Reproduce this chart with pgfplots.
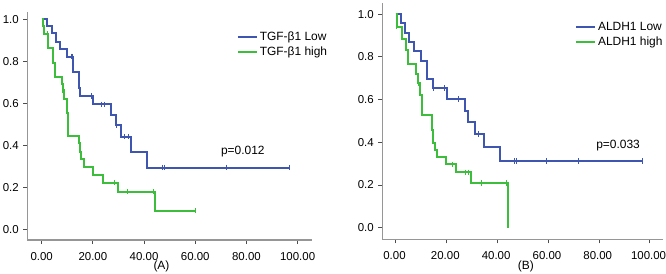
\documentclass[border=0pt]{standalone}
\usepackage{fontspec}
\setmainfont{Liberation Sans}
\usepackage{pgfplots}
\pgfplotsset{compat=1.18}
\definecolor{kmblue}{RGB}{62,86,176}
\definecolor{kmgreen}{RGB}{60,190,60}
\definecolor{axgray}{RGB}{150,150,150}
\pgfplotsset{
  kmaxis/.style={
    scale only axis,
    anchor=south west,
    axis x line=bottom, axis y line=left,
    axis line style={-, axgray, line width=1.2bp},
    tick align=outside,
    major tick length=4bp,
    tick style={black!70, line width=0.9bp},
    /pgf/number format/assume math mode=true,
    tick label style={font=\fontsize{11.5}{13}\selectfont},
    xtick={0,20,40,60,80,100},
    xticklabels={0.00,20.00,40.00,60.00,80.00,100.00},
    ytick={0,0.2,0.4,0.6,0.8,1.0},
    yticklabels={0.0,0.2,0.4,0.6,0.8,1.0},
    xticklabel style={yshift=-4.5bp},
    yticklabel style={xshift=-1bp},
    clip=false,
    legend cell align=left,
    legend style={draw=none, fill=none, inner sep=0pt, row sep=0.5bp,
      font=\fontsize{12}{14}\selectfont},
    legend image code/.code={\draw[#1] (0bp,0bp) -- (19bp,0bp);},
  },
  kmline/.style={const plot, line width=2bp, mark=none},
  kmcens/.style={only marks, mark=|, mark size=2.6bp, mark options={line width=0.9bp}, forget plot},
}
\begin{document}
\begin{tikzpicture}
\useasboundingbox (0,0) rectangle (666bp,274bp);
% ---------------- (A) ----------------
\begin{axis}[kmaxis,
  at={(27.3bp,34bp)}, width=284.4bp, height=228.3bp,
  xmin=-5.63, xmax=105.5, ymin=-0.049, ymax=1.035,
  legend style={at={(rel axis cs:0.736,0.92)}, anchor=north west},
]
\addplot[kmline, kmblue] coordinates {
(0,1) (2.2,0.967) (3.9,0.933) (5.5,0.893) (7.1,0.857) (9.8,0.822)
(12.4,0.751) (14.7,0.672) (14.9,0.635) (19.9,0.596) (27.0,0.545)
(28.9,0.496) (31.0,0.442) (34.9,0.368) (41.0,0.295) (97.0,0.295)};
\addlegendentry{TGF-β1 Low}
\addplot[kmline, kmgreen] coordinates {
(0,1) (0.5,0.966) (0.8,0.931) (2.6,0.862) (4.4,0.79) (5.0,0.727)
(8.1,0.69) (8.3,0.655) (8.9,0.622) (9.8,0.553) (10.4,0.445)
(14.6,0.41) (15.1,0.371) (15.4,0.334) (16.5,0.296) (20.2,0.26)
(24.1,0.223) (29.7,0.181) (44.3,0.09) (59.9,0.09)};
\addlegendentry{TGF-β1 high}
\addplot[kmcens, kmblue] coordinates {
(11.8,0.822) (12.2,0.822) (19.3,0.635) (23.4,0.596) (24.6,0.596)
(29.3,0.496) (32.5,0.442) (33.8,0.442) (47.2,0.295) (47.9,0.295)
(72.0,0.295) (97.0,0.295)};
\addplot[kmcens, kmgreen] coordinates {
(2.2,0.931) (8.9,0.655) (28.4,0.223) (33.6,0.181) (43.6,0.181) (59.9,0.09)};
\node[font=\fontsize{12}{14}\selectfont, inner sep=0pt] at (axis cs:46.8,-0.175) {(A)};
\node[font=\fontsize{12}{14}\selectfont] at (axis cs:78.6,0.37) {p=0.012};
\end{axis}
% ---------------- (B) ----------------
\begin{axis}[kmaxis,
  at={(382.3bp,34.7bp)}, width=280.7bp, height=236bp,
  xmin=-5.28, xmax=105.2, ymin=-0.054, ymax=1.051,
  xticklabel style={xshift=-1.2bp},
  legend style={at={(rel axis cs:0.686,0.929)}, anchor=north west},
]
\addplot[kmline, kmblue] coordinates {
(0,1) (2.1,0.958) (3.8,0.913) (5.4,0.87) (7.1,0.827) (10.0,0.782)
(12.2,0.697) (14.6,0.654) (20.1,0.603) (27.4,0.548) (28.6,0.494)
(31.3,0.439) (34.6,0.377) (40.9,0.313) (97.0,0.313)};
\addlegendentry{ALDH1 Low}
\addplot[kmline, kmgreen] coordinates {
(0,1) (0.7,0.942) (2.5,0.886) (4.2,0.83) (4.8,0.766) (7.8,0.72)
(8.6,0.678) (9.4,0.623) (10.3,0.529) (14.4,0.46) (14.8,0.397)
(15.6,0.363) (16.2,0.33) (19.9,0.297) (23.8,0.26) (29.5,0.21)
(44.0,0.0)};
\addlegendentry{ALDH1 high}
\addplot[kmcens, kmblue] coordinates {
(15.0,0.654) (19.2,0.654) (24.5,0.603) (32.4,0.439) (46.8,0.313)
(47.5,0.313) (59.4,0.313) (72.0,0.313) (97.0,0.313)};
\addplot[kmcens, kmgreen] coordinates {
(0.4,0.942) (9.0,0.678) (22.5,0.297) (27.6,0.26) (28.6,0.26) (33.7,0.21) (43.6,0.21)};
\node[font=\fontsize{12}{14}\selectfont, inner sep=0pt] at (axis cs:51.2,-0.18) {(B)};
\node[font=\fontsize{12}{14}\selectfont] at (axis cs:87.5,0.384) {p=0.033};
\end{axis}
\end{tikzpicture}
\end{document}
